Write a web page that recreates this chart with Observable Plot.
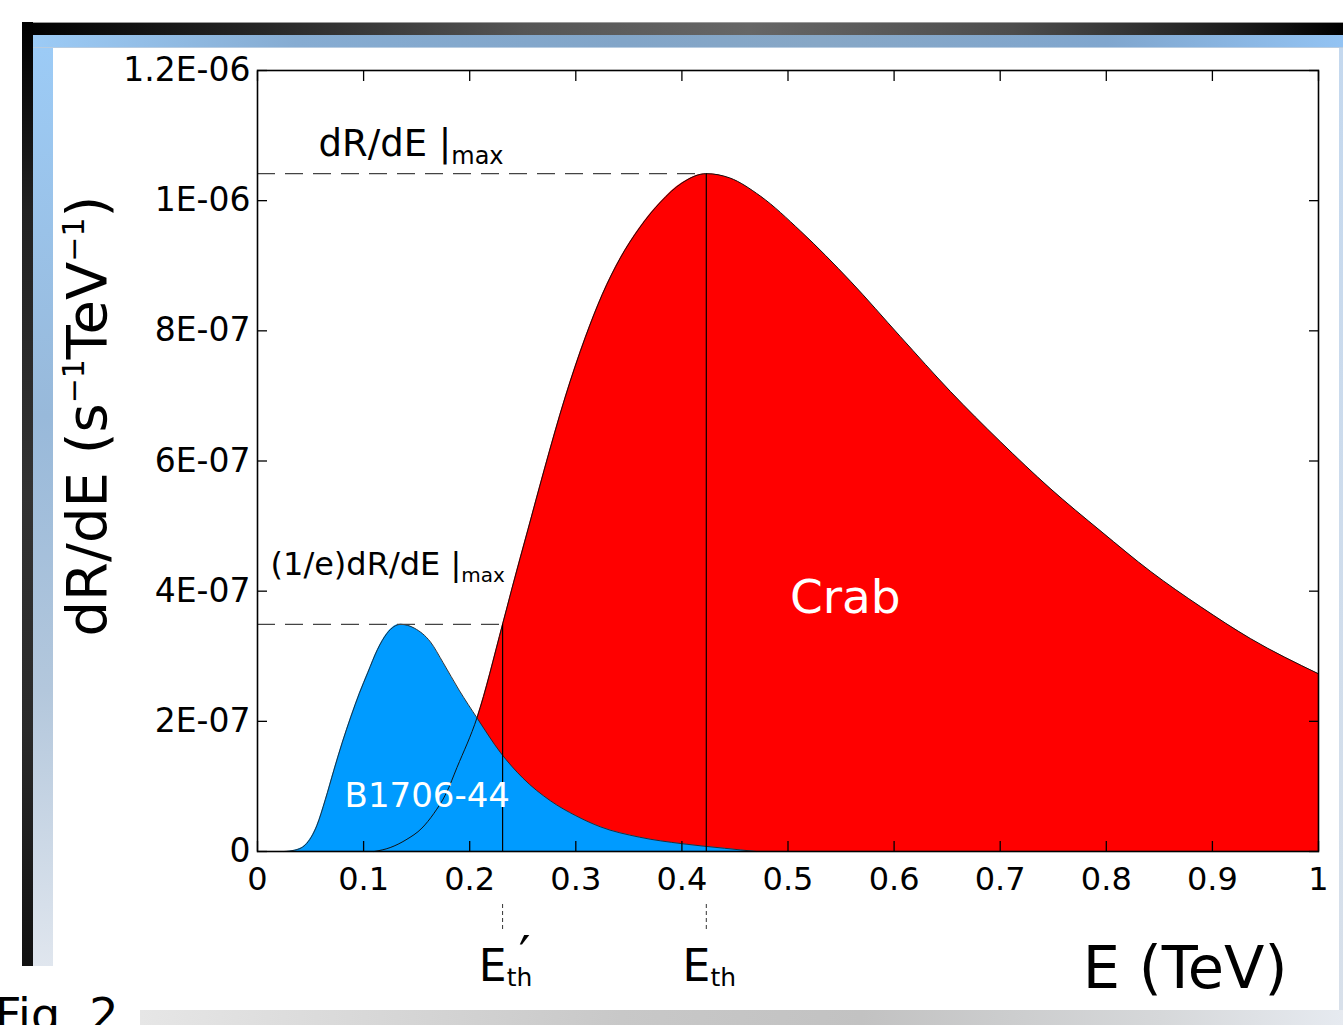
<!DOCTYPE html>
<html><head><meta charset="utf-8">
<script src="https://cdn.jsdelivr.net/npm/d3@7"></script>
<script src="https://cdn.jsdelivr.net/npm/@observablehq/plot@0.6"></script>
<style>
html,body{margin:0;padding:0;background:#fff;}
#page{position:relative;width:1343px;height:1025px;overflow:hidden;background:#fff;font-family:"DejaVu Sans";}
.deco{position:absolute;box-sizing:border-box;}
#chart{position:absolute;left:0;top:0;}
#fig{position:absolute;left:-5px;top:992px;font-size:46px;line-height:1;color:#000;white-space:nowrap;}
</style></head><body>
<div id="page">
  <div class="deco" style="left:22px;top:22px;width:1321px;height:13px;border-top:1px solid #9a9a9a;background:linear-gradient(to right,#000 0%,#262626 18%,#555 38%,#666 55%,#4d4d4d 75%,#1c1c1c 92%,#000 100%);"></div>
  <div class="deco" style="left:33px;top:35px;width:1310px;height:13px;border-bottom:1px solid #b8cce0;background:linear-gradient(to right,#9ccbf6 0%,#86acd2 20%,#82a5c8 45%,#87a7c6 60%,#80a6ce 82%,#92c3f3 100%);"></div>
  <div class="deco" style="left:22px;top:22px;width:11px;height:944px;background:linear-gradient(to bottom,#000 0%,#222 20%,#333 50%,#2a2a2a 75%,#111 100%);"></div>
  <div class="deco" style="left:33px;top:48px;width:20px;height:918px;background:linear-gradient(to bottom,#9ccbf6 0%,#98b9da 40%,#b3c7dc 70%,#e0e6ee 100%);"></div>
  <div class="deco" style="left:1339px;top:48px;width:4px;height:962px;background:linear-gradient(to bottom,#c4d8ee,#d8e0ea);"></div>
  <div class="deco" style="left:140px;top:1010px;width:1203px;height:15px;background:linear-gradient(to right,#e6e6e6 0%,#c8c8c8 40%,#c2c2c2 60%,#d6d8da 85%,#e6eaf0 100%);"></div>
  <div id="fig">Fig. 2</div>
  <div id="chart"></div>
</div>
<script>
// Crab differential rate (s^-1 TeV^-1) vs energy (TeV)
const crabE = [0.11, 0.125, 0.14, 0.155, 0.166, 0.178, 0.188, 0.207, 0.231, 0.24, 0.255, 0.27, 0.29, 0.309, 0.325, 0.342, 0.36, 0.38, 0.40, 0.423, 0.445, 0.474, 0.512, 0.559, 0.606, 0.653, 0.700, 0.747, 0.795, 0.842, 0.889, 0.936, 1.0];
const crabR = [0, 0.006e-6, 0.018e-6, 0.036e-6, 0.058e-6, 0.09e-6, 0.129e-6, 0.206e-6, 0.349e-6, 0.405e-6, 0.495e-6, 0.585e-6, 0.698e-6, 0.79e-6, 0.856e-6, 0.912e-6, 0.958e-6, 0.998e-6, 1.027e-6, 1.0415e-6, 1.035e-6, 1.007e-6, 0.953e-6, 0.876e-6, 0.791e-6, 0.707e-6, 0.630e-6, 0.558e-6, 0.492e-6, 0.430e-6, 0.376e-6, 0.327e-6, 0.273e-6];
// B1706-44 differential rate
const psrE = [0.025, 0.035, 0.045, 0.056, 0.064, 0.072, 0.080, 0.088, 0.096, 0.104, 0.113, 0.122, 0.135, 0.148, 0.163, 0.175, 0.19, 0.207, 0.229, 0.25, 0.276, 0.3, 0.323, 0.36, 0.40, 0.44, 0.47];
const psrR = [0, 0.002e-6, 0.01e-6, 0.04e-6, 0.08e-6, 0.125e-6, 0.168e-6, 0.207e-6, 0.243e-6, 0.275e-6, 0.31e-6, 0.335e-6, 0.349e-6, 0.343e-6, 0.322e-6, 0.29e-6, 0.248e-6, 0.205e-6, 0.152e-6, 0.113e-6, 0.078e-6, 0.055e-6, 0.038e-6, 0.022e-6, 0.012e-6, 0.005e-6, 0];

const xTicks = [0, 0.1, 0.2, 0.3, 0.4, 0.5, 0.6, 0.7, 0.8, 0.9, 1];
const xTickLabels = ["0", "0.1", "0.2", "0.3", "0.4", "0.5", "0.6", "0.7", "0.8", "0.9", "1"];
const yTicks = [0, 2e-7, 4e-7, 6e-7, 8e-7, 1e-6, 1.2e-6];
const yTickLabels = ["0", "2E-07", "4E-07", "6E-07", "8E-07", "1E-06", "1.2E-06"];

const Eth = 0.423, EthPrime = 0.231;
const rateMax = 1.0415e-6, rateLevel = 3.49e-7;

const crab = crabE.map((E, i) => ({E, R: crabR[i]}));
const psr = psrE.map((E, i) => ({E, R: psrR[i]}));

const W = 1343, H = 1025, mT = 70, mR = 25, mB = 174, mL = 257;
const yPerPx = (1.2e-6 - 0) / (H - mT - mB);
const fx = d => xTickLabels[xTicks.findIndex(t => Math.abs(t - d) < 1e-9)];
const fy = d => yTickLabels[yTicks.findIndex(t => Math.abs(t - d) < 1e-12)];

const plot = Plot.plot({
  width: W, height: H, marginTop: mT, marginRight: mR, marginBottom: mB, marginLeft: mL,
  x: {domain: [0, 1]},
  y: {domain: [0, 1.2e-6]},
  style: {fontFamily: "DejaVu Sans", background: "transparent", overflow: "visible", color: "#000"},
  marks: [
    Plot.areaY(crab, {x: "E", y: "R", fill: "#ff0000", curve: "monotone-x"}),
    Plot.areaY(psr, {x: "E", y: "R", fill: "#009bff", curve: "monotone-x"}),
    Plot.lineY(crab, {x: "E", y: "R", stroke: "#111", strokeWidth: 1, curve: "monotone-x"}),
    Plot.lineY(psr, {x: "E", y: "R", stroke: "#222", strokeWidth: 0.9, curve: "monotone-x"}),
    Plot.ruleY([rateMax], {x1: 0, x2: Eth, stroke: "#444", strokeWidth: 1.4, strokeDasharray: "18,10"}),
    Plot.ruleY([rateLevel], {x1: 0, x2: EthPrime, stroke: "#444", strokeWidth: 1.4, strokeDasharray: "18,10"}),
    Plot.ruleX([Eth], {y1: 0, y2: rateMax, stroke: "#000", strokeWidth: 1.2}),
    Plot.ruleX([EthPrime], {y1: 0, y2: rateLevel, stroke: "#000", strokeWidth: 1.2}),
    Plot.ruleX([Eth, EthPrime], {y1: -53 * yPerPx, y2: -79 * yPerPx, stroke: "#333", strokeWidth: 1, strokeDasharray: "4,3"}),
    Plot.frame({stroke: "#000", strokeWidth: 1.6}),
    Plot.axisX(xTicks, {anchor: "bottom", tickSize: -10, fill: "none", strokeWidth: 1.3}),
    Plot.axisX(xTicks, {anchor: "top", tickSize: -10, fill: "none", strokeWidth: 1.3}),
    Plot.axisY(yTicks, {anchor: "left", tickSize: -10, fill: "none", strokeWidth: 1.3}),
    Plot.axisY(yTicks, {anchor: "right", tickSize: -10, fill: "none", strokeWidth: 1.3}),
    Plot.axisX(xTicks, {anchor: "bottom", tickSize: 0, tickPadding: 16, fontSize: 32, tickFormat: fx, label: null}),
    Plot.axisY(yTicks, {anchor: "left", tickSize: 0, tickPadding: 7, fontSize: 33, tickFormat: fy, label: null}),
    Plot.text(["dR/dE |max"], {x: 0.0575, y: rateMax, dy: -18, textAnchor: "start", lineAnchor: "bottom", fontSize: 37, fill: "#000"}),
    Plot.text(["(1/e)dR/dE |max"], {x: 0.0123, y: rateLevel, dy: -49, textAnchor: "start", lineAnchor: "bottom", fontSize: 32, fill: "#000"}),
    Plot.text(["Crab"], {x: 0.554, y: 0.39e-6, textAnchor: "middle", lineAnchor: "middle", fontSize: 47, fill: "#fff"}),
    Plot.text(["B1706-44"], {x: 0.160, y: 0.069e-6, textAnchor: "middle", lineAnchor: "bottom", fontSize: 34, fill: "#fff"}),
    Plot.text([Eth, EthPrime], {x: d => d, y: 0, text: () => "Eth", dx: 3, dy: 129, textAnchor: "middle", lineAnchor: "bottom", fontSize: 44, fill: "#000"}),
    Plot.text([EthPrime], {x: d => d, y: 0, text: () => "\u2032", dx: 22, dy: 121, textAnchor: "middle", lineAnchor: "bottom", fontSize: 52, fill: "#000"}),
    Plot.text(["E (TeV)"], {frameAnchor: "bottom-right", dx: -31, dy: 136, textAnchor: "end", lineAnchor: "bottom", fontSize: 59, fill: "#000"}),
    Plot.text(["dR/dE (s-1TeV-1)"], {frameAnchor: "left", dx: -169, dy: -45, rotate: -90, textAnchor: "middle", lineAnchor: "middle", fontSize: 56, fill: "#000"})
  ]
});

const NS = "http://www.w3.org/2000/svg";
function rich(el, parts) {
  el.textContent = "";
  for (const p of parts) {
    const ts = document.createElementNS(NS, "tspan");
    ts.textContent = p.t;
    if (p.dy) ts.setAttribute("dy", p.dy + "px");
    if (p.size) ts.setAttribute("font-size", p.size + "px");
    el.appendChild(ts);
  }
}
d3.select(plot).selectAll("text").each(function() {
  const t = this.textContent;
  if (t === "dR/dE |max") rich(this, [{t: "dR/dE |"}, {t: "max", size: 24, dy: 8}]);
  else if (t === "(1/e)dR/dE |max") rich(this, [{t: "(1/e)dR/dE |"}, {t: "max", size: 20, dy: 7}]);
  else if (t === "Eth") rich(this, [{t: "E"}, {t: "th", size: 25, dy: 5}]);
  else if (t === "dR/dE (s-1TeV-1)") rich(this, [{t: "dR/dE (s"}, {t: "\u22121", size: 30, dy: -22}, {t: "TeV", dy: 22}, {t: "\u22121", size: 30, dy: -22}, {t: ")", dy: 22}]);
});
document.getElementById("chart").appendChild(plot);
</script>
</body></html>
